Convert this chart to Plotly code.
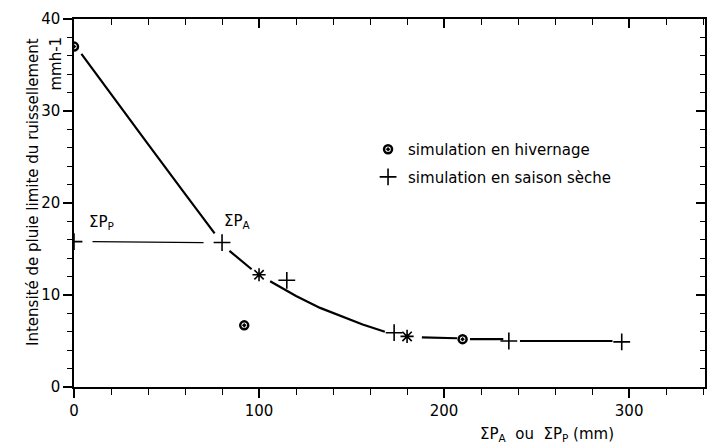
import plotly.graph_objects as go

# Data
hiv_x = [0, 92, 210]          # simulation en hivernage
hiv_y = [37.0, 6.7, 5.2]
sec_x = [0, 80, 115, 173, 235, 296]   # simulation en saison sèche
sec_y = [15.8, 15.7, 11.6, 5.9, 5.0, 4.9]
ast_x = [100, 180]            # superposed points
ast_y = [12.2, 5.5]

curve_x = [4, 20, 40, 60, 76, None, 84, 90, 96, None, 106, 120, 133, 144, 156, 168,
           None, 188, 207, None, 214, 232, None, 241, 291]
curve_y = [36.2, 31.9, 26.4, 21.0, 16.7, None, 14.8, 13.8, 12.8, None, 11.5, 9.9, 8.6,
           7.7, 6.8, 6.0, None, 5.4, 5.3, None, 5.2, 5.2, None, 5.0, 5.0]

pp_x = [10, 70]
pp_y = [15.8, 15.7]

FONT = "DejaVu Sans"
FS = 15
fig = go.Figure()

fig.add_trace(go.Scatter(x=curve_x, y=curve_y, mode="lines", line=dict(color="black", width=2.2),
                         showlegend=False, hoverinfo="skip", connectgaps=False))
fig.add_trace(go.Scatter(x=pp_x, y=pp_y, mode="lines", line=dict(color="black", width=1.3),
                         showlegend=False, hoverinfo="skip"))
fig.add_trace(go.Scatter(x=hiv_x, y=hiv_y, mode="markers", name="simulation en hivernage",
                         legendgroup="a",
                         marker=dict(symbol="circle-open-dot", size=8, color="black",
                                     line=dict(width=2.5, color="black"))))
fig.add_trace(go.Scatter(x=sec_x, y=sec_y, mode="markers", name="simulation en saison sèche",
                         legendgroup="b",
                         marker=dict(symbol="cross-thin-open", size=12, color="black",
                                     line=dict(width=1.6, color="black"))))
fig.add_trace(go.Scatter(x=ast_x, y=ast_y, mode="markers", showlegend=False,
                         marker=dict(symbol="asterisk-open", size=11, color="black",
                                     line=dict(width=1.6, color="black"))))
fig.add_trace(go.Scatter(x=[None], y=[None], xaxis="x2", yaxis="y2", showlegend=False,
                         hoverinfo="skip"))

XR = [0, 341]
YR = [0, 40]
fig.update_layout(
    width=715, height=448, margin=dict(l=74, r=10, t=15, b=61),
    paper_bgcolor="white", plot_bgcolor="white",
    font=dict(family=FONT, size=FS, color="black"),
    xaxis=dict(range=XR, showline=True, linecolor="black", linewidth=1.5, showgrid=False,
               zeroline=False, ticks="outside", tick0=0, dtick=100, ticklen=9, tickwidth=1.5,
               tickcolor="black",
               minor=dict(dtick=20, ticks="outside", ticklen=6, tickwidth=1.2, tickcolor="black"),
               tickfont=dict(size=FS)),
    yaxis=dict(range=YR, showline=True, linecolor="black", linewidth=1.5, showgrid=False,
               zeroline=False, ticks="outside", tick0=0, dtick=10, ticklen=9, tickwidth=1.5,
               tickcolor="black",
               minor=dict(dtick=2, ticks="outside", ticklen=5, tickwidth=1.2, tickcolor="black"),
               tickfont=dict(size=FS)),
    xaxis2=dict(range=XR, overlaying="x", side="top", anchor="y2", showline=True,
                linecolor="black", linewidth=1.5, showgrid=False, zeroline=False,
                ticks="inside", tick0=0, dtick=100, ticklen=9, tickwidth=1.5, tickcolor="black",
                minor=dict(dtick=20, ticks="inside", ticklen=6, tickwidth=1.2, tickcolor="black"),
                showticklabels=False),
    yaxis2=dict(range=YR, overlaying="y", side="right", anchor="x2", showline=True,
                linecolor="black", linewidth=1.5, showgrid=False, zeroline=False,
                ticks="inside", tick0=0, dtick=10, ticklen=9, tickwidth=1.5, tickcolor="black",
                minor=dict(dtick=2, ticks="inside", ticklen=5, tickwidth=1.2, tickcolor="black"),
                showticklabels=False),
    legend=dict(x=0.466, y=0.69, xanchor="left", yanchor="top", bgcolor="rgba(0,0,0,0)",
                font=dict(size=FS, family=FONT), traceorder="grouped", tracegroupgap=5),
)

fig.add_annotation(x=7, y=17.9, xref="x", yref="y", text="ΣP<sub>P</sub>", showarrow=False,
                   xanchor="left", font=dict(size=FS))
fig.add_annotation(x=80, y=18.0, xref="x", yref="y", text="ΣP<sub>A</sub>", showarrow=False,
                   xanchor="left", font=dict(size=FS))
fig.add_annotation(x=-0.065, y=0.53, xref="paper", yref="paper", xanchor="center",
                   yanchor="middle",
                   text="Intensité de pluie limite du ruissellement", textangle=-90,
                   showarrow=False, font=dict(size=FS))
fig.add_annotation(x=-0.03, y=0.879, xref="paper", yref="paper", xanchor="center",
                   yanchor="middle", text="mmh-1", textangle=-90,
                   showarrow=False, font=dict(size=FS))
fig.add_annotation(x=0.75, y=-0.13, xref="paper", yref="paper", xanchor="center",
                   yanchor="middle",
                   text="ΣP<sub>A</sub>  ou  ΣP<sub>P</sub> (mm)", showarrow=False,
                   font=dict(size=FS))

fig.write_html("out.html")
